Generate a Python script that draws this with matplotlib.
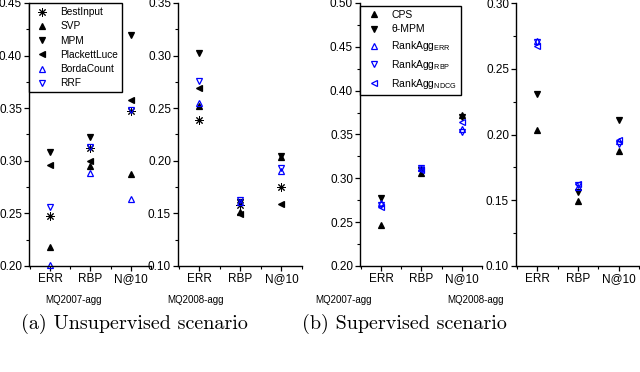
import matplotlib
matplotlib.use("Agg")
from matplotlib import pyplot as plt
from matplotlib.ticker import MultipleLocator, FormatStrFormatter

plt.rcParams['font.family'] = ['Liberation Sans', 'DejaVu Sans']

metrics = ["ERR", "RBP", "N@10"]
positions = [1, 2, 3]

# unsupervised, MQ2007-agg
bestinput_07 = [0.248, 0.312, 0.347]
svp_07 = [0.218, 0.295, 0.287]
mpm_07 = [0.308, 0.323, 0.420]
plackett_07 = [0.296, 0.300, 0.358]
borda_07 = [0.201, 0.288, 0.264]
rrf_07 = [0.256, 0.313, 0.348]

# unsupervised, MQ2008-agg
bestinput_08 = [0.239, 0.158, 0.1755]
svp_08 = [0.2525, 0.151, 0.204]
mpm_08 = [0.302, 0.161, 0.205]
plackett_08 = [0.269, 0.149, 0.159]
borda_08 = [0.255, 0.161, 0.1905]
rrf_08 = [0.276, 0.1625, 0.193]

# supervised, MQ2007-agg
cps_07 = [0.2466, 0.3066, 0.3727]
empm_07 = [0.278, 0.3097, 0.370]
ra_err_07 = [0.2715, 0.3116, 0.356]
ra_rbp_07 = [0.2695, 0.312, 0.3525]
ra_ndcg_07 = [0.2676, 0.309, 0.364]

# supervised, MQ2008-agg
cps_08 = [0.2037, 0.1494, 0.1876]
empm_08 = [0.231, 0.1566, 0.2108]
ra_err_08 = [0.271, 0.160, 0.1948]
ra_rbp_08 = [0.2704, 0.1617, 0.193]
ra_ndcg_08 = [0.2674, 0.162, 0.196]

unsup_names = ["BestInput", "SVP", "MPM", "PlackettLuce", "BordaCount", "RRF"]
sup_names = ["CPS", "θ-MPM", r"RankAgg$_{\mathregular{ERR}}$",
             r"RankAgg$_{\mathregular{RBP}}$", r"RankAgg$_{\mathregular{NDCG}}$"]

BLUE = "#0000ff"
# marker, face, edge, size, edge width
unsup_styles = [((8, 2, 0), "black", "black", 6, 0.7), ("^", "black", "black", 4.5, 0.9),
                ("v", "black", "black", 4.5, 0.9), ("<", "black", "black", 4.5, 0.9),
                ("^", "none", BLUE, 4.5, 0.9), ("v", "none", BLUE, 4.5, 0.9)]
sup_styles = [("^", "black", "black", 4.5, 0.9), ("v", "black", "black", 4.5, 0.9),
              ("^", "none", BLUE, 4.5, 0.9), ("v", "none", BLUE, 4.5, 0.9),
              ("<", "none", BLUE, 4.5, 0.9)]

fig = plt.figure(figsize=(6.4, 3.72), dpi=100)


def make_axes(left_px, width_px, ylim):
    ax = fig.add_axes([left_px / 640, 106 / 372, width_px / 640, 263 / 372])
    ax.set_xlim(0.48, 3.5)
    ax.set_ylim(*ylim)
    ax.set_xticks(positions)
    ax.set_xticklabels(metrics)
    ax.xaxis.set_minor_locator(MultipleLocator(1.0, offset=0.5))
    ax.yaxis.set_major_locator(MultipleLocator(0.05))
    ax.yaxis.set_minor_locator(MultipleLocator(0.025))
    ax.yaxis.set_major_formatter(FormatStrFormatter("%.2f"))
    ax.spines["top"].set_visible(False)
    ax.spines["right"].set_visible(False)
    for s in ["left", "bottom"]:
        ax.spines[s].set_linewidth(1.0)
    ax.tick_params(which="major", direction="out", length=3.5, width=0.9, labelsize=8.5, pad=1.5)
    ax.tick_params(which="minor", direction="out", length=2, width=0.8)
    return ax


def draw(ax, series, styles, names):
    for values, (m, fc, ec, ms, mew), name in zip(series, styles, names):
        ax.plot(positions, values, linestyle="none", marker=m, markersize=ms,
                markerfacecolor=fc, markeredgecolor=ec, markeredgewidth=mew,
                color=ec, clip_on=False, label=name)


ax1 = make_axes(29, 122, (0.20, 0.45))
draw(ax1, [bestinput_07, svp_07, mpm_07, plackett_07, borda_07, rrf_07], unsup_styles, unsup_names)
ax1.legend(loc="upper left", bbox_to_anchor=(0.0, 1.0), borderaxespad=0, fontsize=7.3,
           frameon=True, fancybox=False, edgecolor="black", framealpha=1,
           labelspacing=0.42, handletextpad=0.9, handlelength=1.8, borderpad=0.4)

ax2 = make_axes(178, 124, (0.10, 0.35))
draw(ax2, [bestinput_08, svp_08, mpm_08, plackett_08, borda_08, rrf_08], unsup_styles, unsup_names)

ax3 = make_axes(360, 122, (0.20, 0.50))
draw(ax3, [cps_07, empm_07, ra_err_07, ra_rbp_07, ra_ndcg_07], sup_styles, sup_names)
ax3.legend(loc="upper left", bbox_to_anchor=(0.0, 0.99), borderaxespad=0, fontsize=7.5,
           frameon=True, fancybox=False, edgecolor="black", framealpha=1,
           labelspacing=0.45, handletextpad=0.8, handlelength=1.8, borderpad=0.4)

ax4 = make_axes(516, 123, (0.10, 0.30))
draw(ax4, [cps_08, empm_08, ra_err_08, ra_rbp_08, ra_ndcg_08], sup_styles, sup_names)

for xc, txt in [(74, "MQ2007-agg"), (196, "MQ2008-agg"), (343, "MQ2007-agg"), (475, "MQ2008-agg")]:
    fig.text(xc / 640, (372 - 300) / 372, txt, ha="center", va="center", fontsize=7)

fig.text(134 / 640, (372 - 324) / 372, "(a) Unsupervised scenario", ha="center", va="center",
         fontsize=14.5, family="cmr10")
fig.text(404 / 640, (372 - 324) / 372, "(b) Supervised scenario", ha="center", va="center",
         fontsize=14.5, family="cmr10")

plt.savefig("out.png", dpi=100)
